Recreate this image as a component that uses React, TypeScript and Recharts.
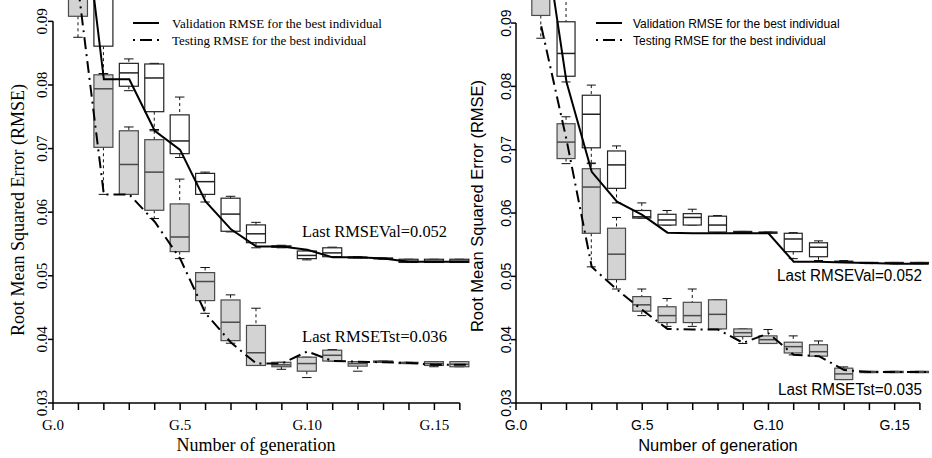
import React from "react";
import { ComposedChart, Bar, Line, XAxis, YAxis, ReferenceLine } from "recharts";

// generations that have a box, and where the best-individual lines stop on the right
const GENS = [1, 2, 3, 4, 5, 6, 7, 8, 9, 10, 11, 12, 13, 14, 15, 16];
const LINE_END = 16.35;
const X_TICKS = [0, 1, 2, 3, 4, 5, 6, 7, 8, 9, 10, 11, 12, 13, 14, 15, 16];
const Y_TICKS = [0.03, 0.04, 0.05, 0.06, 0.07, 0.08, 0.09];

// boxes: [lower whisker, q1, median, q3, upper whisker] per generation
const leftValBoxes = [
  [0.104, 0.106, 0.11, 0.115, 0.118],
  [0.0817, 0.0861, 0.0945, 0.099, 0.105],
  [0.0791, 0.0798, 0.0819, 0.0834, 0.0841],
  [0.073, 0.0758, 0.0811, 0.0833, 0.0834],
  [0.0686, 0.0692, 0.0712, 0.0753, 0.0781],
  [0.0616, 0.0628, 0.0648, 0.0661, 0.0663],
  [0.0569, 0.057, 0.0597, 0.0622, 0.0625],
  [0.0544, 0.0552, 0.0566, 0.058, 0.0584],
  [0.0544, 0.0545, 0.0546, 0.0547, 0.0548],
  [0.0525, 0.0527, 0.0532, 0.0539, 0.0539],
  [0.053, 0.053, 0.0536, 0.0544, 0.0545],
  [0.0528, 0.0528, 0.0529, 0.0529, 0.053],
  [0.0526, 0.0527, 0.0527, 0.0528, 0.0528],
  [0.0521, 0.0521, 0.0523, 0.0526, 0.0526],
  [0.0521, 0.0521, 0.0523, 0.0526, 0.0526],
  [0.0521, 0.0521, 0.0523, 0.0526, 0.0526],
];
const leftTestBoxes = [
  [0.0875, 0.0908, 0.0945, 0.098, 0.102],
  [0.0628, 0.0702, 0.0794, 0.0816, 0.0818],
  [0.0628, 0.0628, 0.0675, 0.0728, 0.0734],
  [0.059, 0.0603, 0.0663, 0.0714, 0.0728],
  [0.0527, 0.0538, 0.0561, 0.0613, 0.0652],
  [0.0441, 0.0461, 0.0491, 0.0505, 0.0513],
  [0.0394, 0.0398, 0.0427, 0.0462, 0.047],
  [0.0359, 0.0359, 0.0379, 0.0422, 0.0449],
  [0.0353, 0.0357, 0.036, 0.0364, 0.0364],
  [0.034, 0.035, 0.0362, 0.0372, 0.0372],
  [0.0366, 0.0366, 0.0375, 0.0383, 0.0384],
  [0.035, 0.0358, 0.0362, 0.0365, 0.0365],
  [0.0364, 0.0364, 0.0365, 0.0366, 0.0366],
  [0.0362, 0.0362, 0.0363, 0.0364, 0.0364],
  [0.0357, 0.0359, 0.0362, 0.0365, 0.0365],
  [0.0357, 0.0357, 0.0361, 0.0365, 0.0365],
];
const leftValBest = [0.114, 0.0809, 0.0809, 0.0728, 0.0698, 0.0617, 0.0573, 0.0546, 0.0546, 0.0541, 0.0529, 0.0529, 0.0527, 0.0522, 0.0522, 0.0522, 0.0522];
const leftTestBest = [0.095, 0.0628, 0.0628, 0.0585, 0.0527, 0.0441, 0.0395, 0.0362, 0.0362, 0.0381, 0.0366, 0.0365, 0.0364, 0.0363, 0.036, 0.036, 0.036];

const rightValBoxes = [
  [0.102, 0.104, 0.108, 0.112, 0.116],
  [0.0807, 0.0816, 0.0852, 0.0902, 0.099],
  [0.0679, 0.0703, 0.0756, 0.0786, 0.0802],
  [0.0616, 0.0639, 0.0676, 0.0698, 0.0706],
  [0.0592, 0.0592, 0.0594, 0.0604, 0.0616],
  [0.0581, 0.0581, 0.0589, 0.0598, 0.0604],
  [0.0581, 0.0581, 0.0593, 0.0599, 0.0606],
  [0.057, 0.057, 0.0581, 0.0595, 0.0596],
  [0.0569, 0.0569, 0.057, 0.0571, 0.0571],
  [0.0568, 0.0568, 0.0569, 0.057, 0.057],
  [0.0528, 0.0539, 0.0559, 0.0568, 0.0569],
  [0.0525, 0.0531, 0.0546, 0.0553, 0.0556],
  [0.0522, 0.0523, 0.0523, 0.0524, 0.0525],
  [0.052, 0.0521, 0.0521, 0.0522, 0.0522],
  [0.052, 0.0521, 0.0521, 0.0522, 0.0522],
  [0.052, 0.0521, 0.0521, 0.0522, 0.0522],
];
const rightTestBoxes = [
  [0.0876, 0.0912, 0.095, 0.099, 0.103],
  [0.0678, 0.0686, 0.0712, 0.0741, 0.0752],
  [0.0515, 0.0568, 0.0641, 0.067, 0.0678],
  [0.048, 0.0495, 0.0535, 0.0576, 0.0593],
  [0.0438, 0.0445, 0.0455, 0.0468, 0.048],
  [0.0421, 0.0427, 0.0438, 0.0452, 0.0465],
  [0.0421, 0.0427, 0.0438, 0.0459, 0.048],
  [0.0417, 0.0417, 0.044, 0.0463, 0.0463],
  [0.0394, 0.0405, 0.0411, 0.0417, 0.0417],
  [0.0394, 0.0394, 0.04, 0.0406, 0.0416],
  [0.0376, 0.0379, 0.0389, 0.0396, 0.0406],
  [0.0374, 0.0374, 0.0381, 0.0392, 0.0398],
  [0.0337, 0.0337, 0.0346, 0.0355, 0.0357],
  [0.0348, 0.0348, 0.0349, 0.035, 0.035],
  [0.0348, 0.0348, 0.0349, 0.035, 0.035],
  [0.0348, 0.0348, 0.0349, 0.035, 0.035],
];
const rightValBest = [0.1074, 0.0807, 0.0665, 0.0618, 0.0597, 0.0569, 0.0568, 0.0568, 0.0568, 0.0568, 0.0523, 0.0523, 0.0522, 0.0521, 0.052, 0.052, 0.052];
const rightTestBest = [0.0895, 0.0716, 0.0515, 0.0479, 0.0447, 0.0417, 0.0416, 0.0416, 0.0395, 0.041, 0.0376, 0.0374, 0.0352, 0.0349, 0.0349, 0.0349, 0.0349];

const LINE_X = [...GENS, LINE_END];
const DASH_DOT = "12 5 2 5";

// full vertical extent of both boxes of a generation (the bar the shape is drawn in)
const span = (d: any) => {
  if (!d || !d.val || !d.test) return null;
  return [Math.min(d.val[0], d.test[0]), Math.max(d.val[4], d.test[4])];
};

// draws the validation (white) and testing (grey) box for one generation
function BoxPair(props: any) {
  const { x, y, width, height, payload, boxWidth } = props;
  const s = span(payload);
  if (!s) return null;
  const [lo, hi] = s;
  const top = Math.min(y, y + height);
  const bot = Math.max(y, y + height);
  const py = (v: number) => bot - ((v - lo) / (hi - lo)) * (bot - top);
  const cx = x + width / 2;
  const left = cx - boxWidth / 2;
  const cap = boxWidth / 4;

  const one = (b: number[], fill: string, stroke: string) => {
    const [wl, q1, md, q3, wh] = b;
    return (
      <g>
        <line x1={cx} x2={cx} y1={py(wh)} y2={py(q3)} stroke="#111" strokeDasharray="3 3" />
        <line x1={cx} x2={cx} y1={py(q1)} y2={py(wl)} stroke="#111" strokeDasharray="3 3" />
        <line x1={cx - cap} x2={cx + cap} y1={py(wh)} y2={py(wh)} stroke="#111" />
        <line x1={cx - cap} x2={cx + cap} y1={py(wl)} y2={py(wl)} stroke="#111" />
        <rect x={left} y={py(q3)} width={boxWidth} height={Math.max(py(q1) - py(q3), 0.5)} fill={fill} stroke={stroke} strokeWidth={1.2} />
        <line x1={left} x2={left + boxWidth} y1={py(md)} y2={py(md)} stroke={stroke} strokeWidth={1.5} />
      </g>
    );
  };

  return (
    <g>
      {one(payload.val, "#ffffff", "#222")}
      {one(payload.test, "#d3d3d3", "#4a4a4a")}
    </g>
  );
}

type PanelProps = {
  valBoxes: number[][];
  testBoxes: number[][];
  valBest: number[];
  testBest: number[];
  width: number;
  yAxisWidth: number;
  marginRight: number;
  yMax: number;
  boxWidth: number;
  font: string;
  xTickSize: number;
  yTickSize: number;
  xTickMargin: number;
  yTickMargin: number;
  titleSize: number;
  yTitleX: number;
  yTitleY: number;
  xTitleX: number;
};

function Panel(p: PanelProps) {
  const rows = GENS.map((g, i) => ({ g, val: p.valBoxes[i], test: p.testBoxes[i] }));
  const valLine = LINE_X.map((g, i) => ({ g, v: p.valBest[i] }));
  const testLine = LINE_X.map((g, i) => ({ g, v: p.testBest[i] }));

  const YTick = (t: any) => (
    <text
      x={t.x}
      y={t.y}
      transform={`rotate(-90 ${t.x} ${t.y})`}
      textAnchor="middle"
      fontFamily={p.font}
      fontSize={p.yTickSize}
      fill="#000"
    >
      {Number(t.payload.value).toFixed(2)}
    </text>
  );

  return (
    <ComposedChart
      width={p.width}
      height={458}
      data={rows}
      margin={{ top: 0, right: p.marginRight, bottom: 0, left: 0 }}
    >
      <XAxis
        dataKey="g"
        type="number"
        domain={[0, 16.4]}
        ticks={X_TICKS}
        interval={0}
        axisLine={false}
        tickLine={{ stroke: "#000", strokeWidth: 1.5 }}
        tickSize={7}
        tickMargin={p.xTickMargin}
        height={55}
        tick={{ fill: "#000", fontSize: p.xTickSize, fontFamily: p.font }}
        tickFormatter={(v: number) => (v % 5 === 0 ? `G.${v}` : "")}
        label={{
          content: () => (
            <text x={p.xTitleX} y={451} textAnchor="middle" fontFamily={p.font} fontSize={p.titleSize} fill="#000">
              Number of generation
            </text>
          ),
        }}
      />
      <YAxis
        type="number"
        domain={[0.03, p.yMax]}
        allowDataOverflow
        ticks={Y_TICKS}
        interval={0}
        width={p.yAxisWidth}
        axisLine={false}
        tickLine={{ stroke: "#000", strokeWidth: 1.5 }}
        tickSize={5}
        tickMargin={p.yTickMargin}
        tick={YTick}
        label={{
          content: () => (
            <text
              x={p.yTitleX}
              y={p.yTitleY}
              transform={`rotate(-90 ${p.yTitleX} ${p.yTitleY})`}
              textAnchor="middle"
              fontFamily={p.font}
              fontSize={p.titleSize}
              fill="#000"
            >
              Root Mean Squared Error (RMSE)
            </text>
          ),
        }}
      />
      <ReferenceLine segment={[{ x: 0, y: 0.03 }, { x: 16, y: 0.03 }]} stroke="#000" strokeWidth={1.5} ifOverflow="visible" />
      <ReferenceLine segment={[{ x: 0, y: 0.03 }, { x: 0, y: 0.09 }]} stroke="#000" strokeWidth={1.5} ifOverflow="visible" />
      <Bar dataKey={span} barSize={p.boxWidth} shape={(s: any) => <BoxPair {...s} boxWidth={p.boxWidth} />} isAnimationActive={false} />
      <Line data={valLine} dataKey="v" type="linear" stroke="#000" strokeWidth={2} dot={false} isAnimationActive={false} />
      <Line data={testLine} dataKey="v" type="linear" stroke="#000" strokeWidth={2} strokeDasharray={DASH_DOT} dot={false} isAnimationActive={false} />
    </ComposedChart>
  );
}

function Overlay({ font, legendX, textX, legendSize, notes }: any) {
  return (
    <svg width={466} height={458} style={{ position: "absolute", left: 0, top: 0, pointerEvents: "none" }}>
      <line x1={legendX} x2={legendX + 26} y1={23} y2={23} stroke="#000" strokeWidth={2} />
      <line x1={legendX} x2={legendX + 26} y1={40} y2={40} stroke="#000" strokeWidth={2} strokeDasharray="2 5 12 5" />
      <text x={textX} y={27.5} fontFamily={font} fontSize={legendSize} fill="#000">
        Validation RMSE for the best individual
      </text>
      <text x={textX} y={44.5} fontFamily={font} fontSize={legendSize} fill="#000">
        Testing RMSE for the best individual
      </text>
      {notes.map((n: any) => (
        <text key={n.text} x={n.x} y={n.y} fontFamily={font} fontSize={n.size} fill="#000" textLength={n.len} lengthAdjust="spacingAndGlyphs">
          {n.text}
        </text>
      ))}
    </svg>
  );
}

const SERIF = "'Liberation Serif', 'Times New Roman', serif";
const SANS = "'Liberation Sans', Arial, sans-serif";

export default function App() {
  return (
    <div style={{ position: "absolute", left: 0, top: 0, width: 932, height: 458, background: "#fff", overflow: "hidden" }}>
      <div style={{ position: "absolute", left: 0, top: 0 }}>
        <Panel
          valBoxes={leftValBoxes}
          testBoxes={leftTestBoxes}
          valBest={leftValBest}
          testBest={leftTestBest}
          width={470}
          yAxisWidth={53}
          marginRight={0}
          yMax={0.09336}
          boxWidth={19}
          font={SERIF}
          xTickSize={15}
          yTickSize={15}
          xTickMargin={9}
          yTickMargin={1}
          titleSize={18}
          yTitleX={24}
          yTitleY={210}
          xTitleX={256}
        />
        <Overlay
          font={SERIF}
          legendX={133}
          textX={172}
          legendSize={13}
          notes={[
            { text: "Last RMSEVal=0.052", x: 302, y: 237, size: 17, len: 145 },
            { text: "Last RMSETst=0.036", x: 302, y: 341.5, size: 17, len: 145 },
          ]}
        />
      </div>
      <div style={{ position: "absolute", left: 466, top: 0 }}>
        <Panel
          valBoxes={rightValBoxes}
          testBoxes={rightTestBoxes}
          valBest={rightValBest}
          testBest={rightTestBest}
          width={466}
          yAxisWidth={50}
          marginRight={2}
          yMax={0.09364}
          boxWidth={18}
          font={SANS}
          xTickSize={14}
          yTickSize={14}
          xTickMargin={10}
          yTickMargin={0}
          titleSize={16.5}
          yTitleX={17}
          yTitleY={206}
          xTitleX={252}
        />
        <Overlay
          font={SANS}
          legendX={130}
          textX={167}
          legendSize={12}
          notes={[
            { text: "Last RMSEVal=0.052", x: 311, y: 280.5, size: 16, len: 145 },
            { text: "Last RMSETst=0.035", x: 312, y: 395, size: 16, len: 144 },
          ]}
        />
      </div>
    </div>
  );
}
